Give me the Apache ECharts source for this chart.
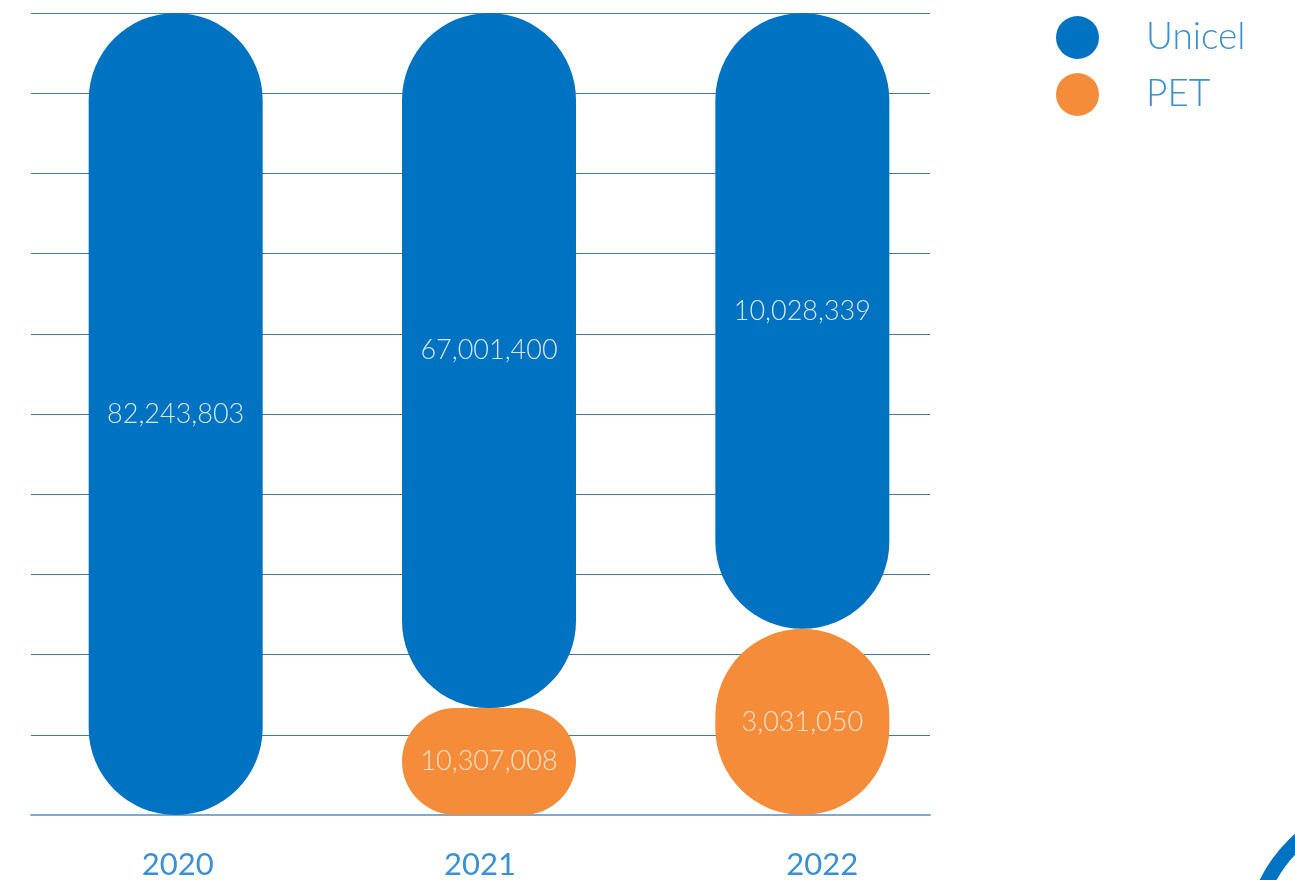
<!DOCTYPE html>
<html>
<head>
<meta charset="utf-8">
<script src="https://cdn.jsdelivr.net/npm/echarts@6/dist/echarts.min.js"></script>
<style>
  html, body { margin: 0; padding: 0; background: #ffffff; }
  #chart { width: 1295px; height: 880px; }
</style>
</head>
<body>
<div id="chart"></div>
<script>
// Collected material per year
const years = ['2020', '2021', '2022'];
const unicel = [82243803, 67001400, 10028339];
const pet = [0, 10307008, 3031050];
const yTicks = [0, 10, 20, 30, 40, 50, 60, 70, 80, 90, 100];

const BLUE = '#0072c2';
const ORANGE = '#f48c3a';
const TEXT_BLUE = '#3a90d6';
const FONT = 'Lato, "Open Sans", sans-serif';

// Each year is shown as a 100% stack of its two materials
const totals = years.map((_, i) => unicel[i] + pet[i]);
const share = (arr) => arr.map((v, i) => (v > 0 ? (v / totals[i]) * 100 : null));
const fmt = (v) => v.toLocaleString('en-US');

const chart = echarts.init(document.getElementById('chart'), null, { renderer: 'canvas' });

const barLabel = (arr, color) => ({
  show: true,
  position: 'inside',
  color: color,
  fontFamily: FONT,
  fontWeight: 300,
  fontSize: 27,
  formatter: (p) => fmt(arr[p.dataIndex])
});

// Upper segments that sit on a lower one carry their label a little higher
const unicelItems = share(unicel).map((v, i) =>
  pet[i] > 0 ? { value: v, label: { offset: [0, -10] } } : v
);

chart.setOption({
  animation: false,
  backgroundColor: '#ffffff',
  legend: {
    orient: 'vertical',
    left: 1051,
    top: 11,
    itemWidth: 43,
    itemHeight: 43,
    itemGap: 14,
    icon: 'circle',
    data: ['Unicel', 'PET'],
    textStyle: {
      color: TEXT_BLUE,
      fontFamily: FONT,
      fontWeight: 300,
      fontSize: 37,
      padding: [0, 0, 0, 42]
    }
  },
  grid: [
    { left: 19, width: 940, top: 13, bottom: 65 },
    { left: 31, width: 899, top: 13, bottom: 65 }
  ],
  xAxis: [
    {
      type: 'category',
      gridIndex: 0,
      data: years,
      axisLine: { show: false },
      axisTick: { show: false },
      axisLabel: {
        margin: 34,
        color: TEXT_BLUE,
        fontFamily: FONT,
        fontSize: 31,
        formatter: (v, i) => '{y' + i + '|' + v + '}',
        rich: {
          y0: { color: TEXT_BLUE, fontFamily: FONT, fontSize: 31, padding: [0, 0, 0, 4] },
          y1: { color: TEXT_BLUE, fontFamily: FONT, fontSize: 31, padding: [0, 18, 0, 0] },
          y2: { color: TEXT_BLUE, fontFamily: FONT, fontSize: 31, padding: [0, 0, 0, 40] }
        }
      }
    },
    {
      type: 'value',
      gridIndex: 1,
      show: true,
      axisLine: { show: true, lineStyle: { color: '#7ea8d6', width: 2 } },
      axisTick: { show: false },
      axisLabel: { show: false },
      splitLine: { show: false }
    }
  ],
  yAxis: [
    {
      type: 'value',
      gridIndex: 0,
      min: 0,
      max: 100,
      interval: 10,
      show: false,
      splitLine: { show: false }
    },
    {
      type: 'value',
      gridIndex: 1,
      min: yTicks[0],
      max: yTicks[yTicks.length - 1],
      interval: yTicks[1] - yTicks[0],
      axisLine: { show: false },
      axisTick: { show: false },
      axisLabel: { show: false },
      splitLine: { show: true, lineStyle: { color: '#3f78b3', width: 1 } }
    }
  ],
  series: [
    {
      name: 'PET',
      type: 'bar',
      xAxisIndex: 0,
      yAxisIndex: 0,
      stack: 'total',
      barWidth: 174,
      data: share(pet),
      itemStyle: { color: ORANGE, borderRadius: 87 },
      label: barLabel(pet, '#fde3cc'),
      z: 3
    },
    {
      name: 'Unicel',
      type: 'bar',
      xAxisIndex: 0,
      yAxisIndex: 0,
      stack: 'total',
      barWidth: 174,
      data: unicelItems,
      itemStyle: { color: BLUE, borderRadius: 87 },
      label: barLabel(unicel, '#d6e6f6'),
      z: 3
    }
  ],
  graphic: [
    {
      type: 'circle',
      shape: { cx: 1392, cy: 945, r: 140 },
      style: { fill: 'none', stroke: BLUE, lineWidth: 15 },
      silent: true
    }
  ]
});
</script>
</body>
</html>
